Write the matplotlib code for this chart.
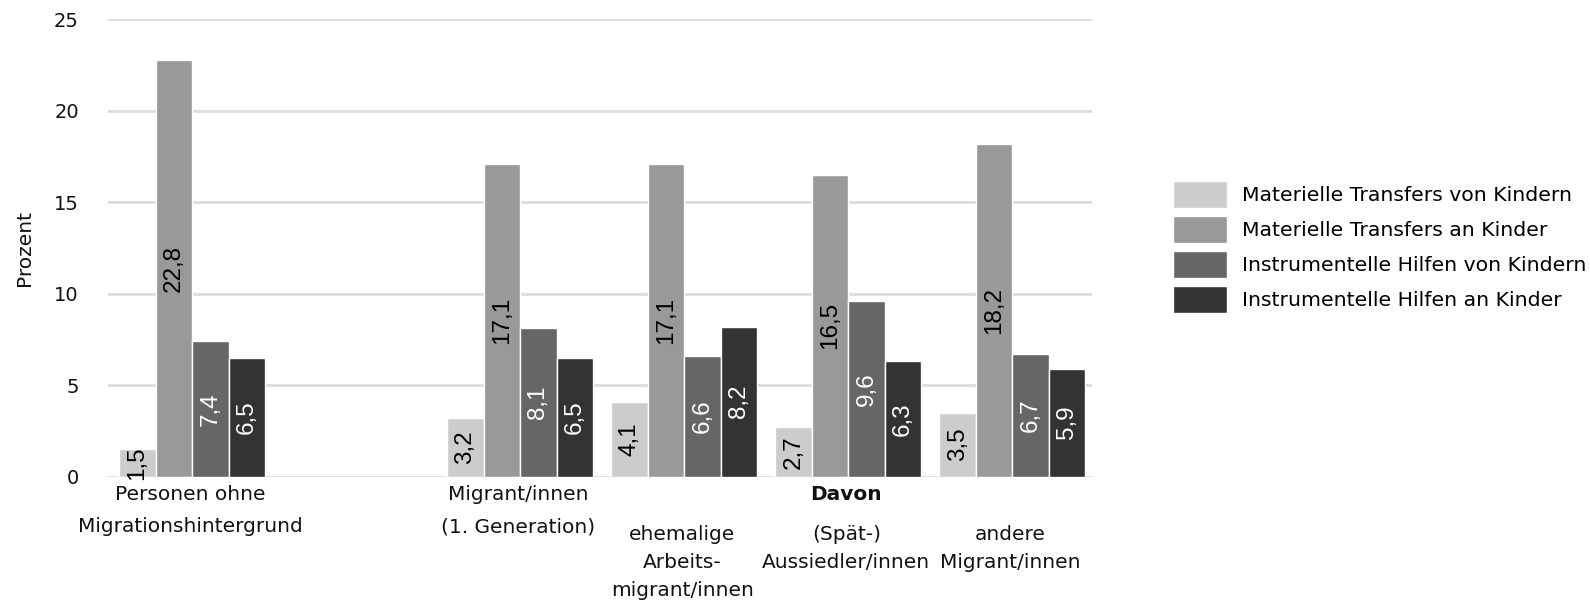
import numpy as np
import matplotlib
matplotlib.use('Agg')
import matplotlib.pyplot as plt

plt.rcParams['font.family'] = ['DejaVu Sans']

# categories (slot 1 is an empty spacer between the two blocks)
categories = [['Personen ohne', 'Migrationshintergrund'], [], ['Migrant/innen', '(1. Generation)'],
              ['ehemalige', 'Arbeits-', 'migrant/innen'], ['(Spät-)', 'Aussiedler/innen'],
              ['andere', 'Migrant/innen']]
lowLabel = [False, False, False, True, True, True]

series = ['Materielle Transfers von Kindern', 'Materielle Transfers an Kinder',
          'Instrumentelle Hilfen von Kindern', 'Instrumentelle Hilfen an Kinder']
matVon = [1.5, None, 3.2, 4.1, 2.7, 3.5]
matAn = [22.8, None, 17.1, 17.1, 16.5, 18.2]
instVon = [7.4, None, 8.1, 6.6, 9.6, 6.7]
instAn = [6.5, None, 6.5, 8.2, 6.3, 5.9]
values = [matVon, matAn, instVon, instAn]

colors = ['#cccccc', '#999999', '#666666', '#333333']
textColors = ['black', 'black', 'white', 'white']

fig = plt.figure(figsize=(15.9, 6.03), dpi=100)
ax = fig.add_axes([0.068, 0.2096, 0.619, 0.7584])

barWidth = 0.222
x = np.arange(len(categories))
for i, vals in enumerate(values):
    offset = (i - 1.5) * barWidth + 0.012
    xs = [xi + offset for xi, v in zip(x, vals) if v is not None]
    vs = [v for v in vals if v is not None]
    bars = ax.bar(xs, vs, width=barWidth, color=colors[i], edgecolor='white',
                  linewidth=1, label=series[i], zorder=3)
    for b, v in zip(bars, vs):
        ax.text(b.get_x() + b.get_width() / 2, v / 2, '{:.1f}'.format(v).replace('.', ','),
                rotation=90, ha='center', va='center', fontsize=17.5,
                family='Liberation Sans', color=textColors[i], zorder=4)

ax.set_xlim(-0.5, 5.5)
ax.set_ylim(0, 25)
ax.set_yticks([0, 5, 10, 15, 20, 25])
ax.yaxis.grid(True, color='#dddddd', linewidth=2, zorder=0)
ax.set_axisbelow(True)
for s in ax.spines.values():
    s.set_visible(False)
ax.tick_params(axis='y', length=0, pad=21, labelsize=14, colors='#111111')
ax.set_xticks([])
fig.text(25 / 1590, 1 - 248 / 603, 'Prozent', rotation=90, ha='center', va='center',
         fontsize=14.5, color='#111111')

# category labels below the axis, one line at a time
upperRows = [-0.039, -0.110]
lowerRows = [-0.126, -0.188, -0.248]
xform = ax.get_xaxis_transform()
for xi, lines, low in zip(x, categories, lowLabel):
    rows = lowerRows if low else upperRows
    for line, yPos in zip(lines, rows):
        ax.text(xi, yPos, line, transform=xform, ha='center', va='center',
                fontsize=14.5, color='#111111')
ax.text(4, upperRows[0], 'Davon', transform=xform, ha='center', va='center',
        fontsize=14.5, fontweight='bold', color='#111111')

fig.legend(loc='center left', bbox_to_anchor=(1173 / 1590, 1 - 247 / 603), frameon=False,
           fontsize=14.7, handlelength=2.65, handleheight=1.62, labelspacing=0.42,
           handletextpad=0.72, borderpad=0, borderaxespad=0)

fig.savefig('out.png', dpi=100)
